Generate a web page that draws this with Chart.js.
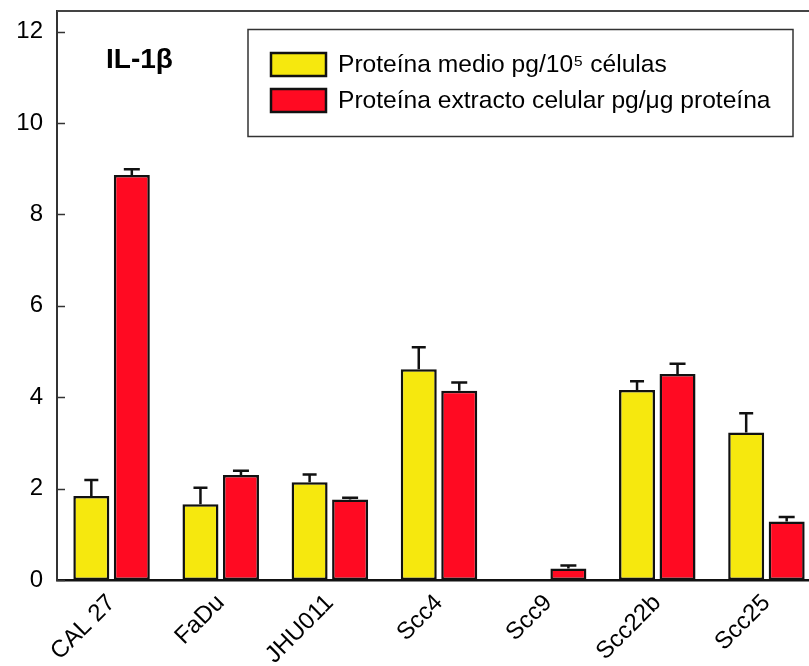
<!DOCTYPE html>
<html>
<head>
<meta charset="utf-8">
<script src="https://cdn.jsdelivr.net/npm/chart.js@4"></script>
<style>
html,body{margin:0;padding:0;overflow:hidden;background:#fff;width:809px;height:666px;}
canvas{display:block;}
</style>
</head>
<body>
<canvas id="c" width="830" height="666"></canvas>
<script>
const categories = ["CAL 27", "FaDu", "JHU011", "Scc4", "Scc9", "Scc22b", "Scc25"];
const seriesNames = ["Proteína medio pg/10⁵ células", "Proteína extracto celular pg/μg proteína"];
const mediumValues = [1.84, 1.66, 2.14, 4.61, null, 4.16, 3.23];
const mediumErrors = [0.35, 0.36, 0.17, 0.48, null, 0.19, 0.42];
const extractValues = [8.86, 2.30, 1.76, 4.14, 0.25, 4.51, 1.28];
const extractErrors = [0.13, 0.09, 0.04, 0.18, 0.07, 0.22, 0.10];
const yTicks = [0, 2, 4, 6, 8, 10, 12];
const chartTitle = "IL-1β";

const YELLOW = '#F6E80E';
const RED = '#FF0A22';
const FONT = "Arial, 'Liberation Sans', sans-serif";

const errorBars = {
  id: 'errorBars',
  afterDatasetsDraw(chart) {
    const ctx = chart.ctx;
    const y = chart.scales.y;
    const errs = [mediumErrors, extractErrors];
    ctx.save();
    ctx.strokeStyle = '#111';
    ctx.lineWidth = 2.5;
    chart.data.datasets.forEach((ds, di) => {
      const meta = chart.getDatasetMeta(di);
      meta.data.forEach((bar, i) => {
        const v = ds.data[i], e = errs[di][i];
        if (v == null || e == null) return;
        const x = bar.x;
        const top = y.getPixelForValue(v);
        const yt = y.getPixelForValue(v + e);
        const cap = di === 0 ? 7 : 8;
        ctx.beginPath();
        ctx.moveTo(x, top);
        ctx.lineTo(x, yt);
        ctx.moveTo(x - cap, yt);
        ctx.lineTo(x + cap, yt);
        ctx.stroke();
      });
    });
    ctx.restore();
  }
};

const frameAndDecor = {
  id: 'frameAndDecor',
  afterDraw(chart) {
    const ctx = chart.ctx;
    const a = chart.chartArea;
    const y = chart.scales.y;
    ctx.save();
    // top frame line
    ctx.strokeStyle = '#444';
    ctx.lineWidth = 2;
    ctx.beginPath();
    ctx.moveTo(a.left, a.top);
    ctx.lineTo(a.right, a.top);
    ctx.lineTo(a.right, a.bottom);
    ctx.stroke();
    // inward y ticks
    ctx.strokeStyle = '#333';
    ctx.lineWidth = 1.5;
    yTicks.forEach(t => {
      const py = Math.round(y.getPixelForValue(t)) + 0.5;
      ctx.beginPath();
      ctx.moveTo(a.left, py);
      ctx.lineTo(a.left + 8, py);
      ctx.stroke();
    });
    // title
    ctx.fillStyle = '#000';
    ctx.font = "bold 28px " + FONT;
    ctx.textAlign = 'left';
    ctx.textBaseline = 'alphabetic';
    ctx.fillText(chartTitle, 106, 68);
    // legend box
    ctx.strokeStyle = '#333';
    ctx.lineWidth = 1.5;
    ctx.strokeRect(248, 29.5, 545, 107);
    const cols = [YELLOW, RED];
    const rows = [53, 89];
    ctx.font = "24.6px " + FONT;
    ctx.textBaseline = 'middle';
    seriesNames.forEach((name, i) => {
      ctx.fillStyle = cols[i];
      ctx.fillRect(271, rows[i], 55, 23);
      ctx.strokeStyle = '#111';
      ctx.lineWidth = 2.5;
      ctx.strokeRect(271, rows[i], 55, 23);
      ctx.fillStyle = '#000';
      ctx.fillText(name, 338, rows[i] + 12);
    });
    ctx.restore();
  }
};

new Chart(document.getElementById('c'), {
  type: 'bar',
  data: {
    labels: categories,
    datasets: [
      { label: seriesNames[0], data: mediumValues, backgroundColor: YELLOW, borderColor: '#111', borderWidth: 2.5, borderSkipped: false },
      { label: seriesNames[1], data: extractValues, backgroundColor: RED, borderColor: '#111', borderWidth: 2.5, borderSkipped: false }
    ]
  },
  options: {
    responsive: false,
    animation: false,
    devicePixelRatio: 1,
    layout: { padding: { left: 0, right: 9, top: 11, bottom: 0 } },
    plugins: { legend: { display: false }, tooltip: { enabled: false }, title: { display: false } },
    datasets: { bar: { categoryPercentage: 0.742, barPercentage: 0.889 } },
    scales: {
      x: {
        grid: { display: false, drawTicks: false },
        border: { display: true, color: '#111', width: 2.5 },
        ticks: {
          color: '#000', font: { family: FONT, size: 24 },
          maxRotation: 45, minRotation: 45, padding: 9, autoSkip: false
        },
        afterFit(s) { s.height = 86; s.paddingLeft = 0; s.paddingRight = 0; }
      },
      y: {
        min: 0, max: 12.45,
        grid: { display: false, drawTicks: false },
        border: { display: true, color: '#333', width: 2 },
        afterBuildTicks(s) { s.ticks = yTicks.map(v => ({ value: v })); },
        ticks: { color: '#000', font: { family: FONT, size: 24 }, padding: 14 },
        afterFit(s) { s.width = 57; s.paddingTop = 0; s.paddingBottom = 0; }
      }
    }
  },
  plugins: [errorBars, frameAndDecor]
});
</script>
</body>
</html>
